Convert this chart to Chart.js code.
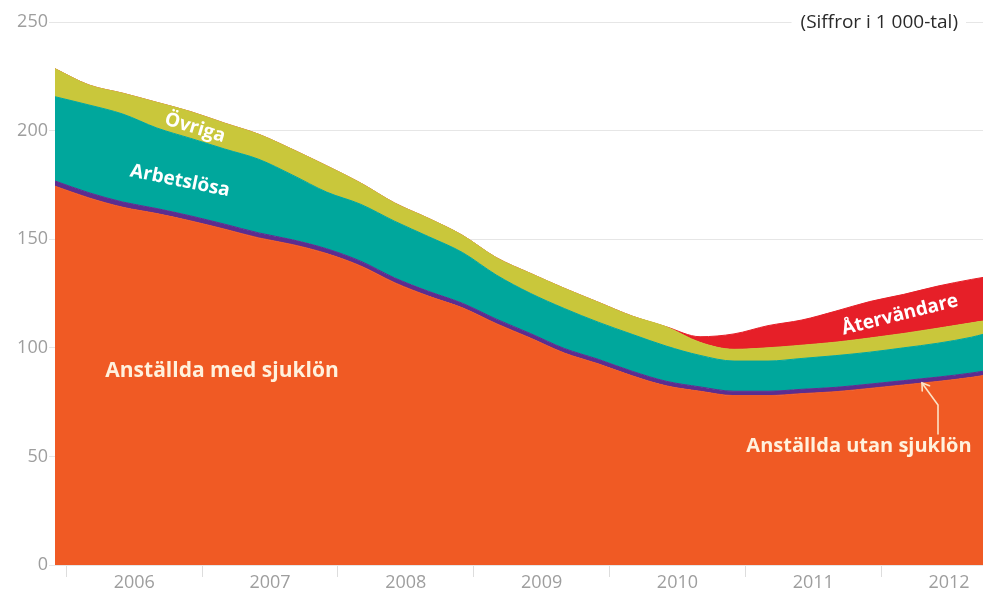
<!DOCTYPE html>
<html>
<head>
<meta charset="utf-8">
<script src="https://cdn.jsdelivr.net/npm/chart.js@4.4.1/dist/chart.umd.min.js"></script>
<style>
  html, body { margin: 0; padding: 0; background: #ffffff; }
  #c { display: block; }
</style>
</head>
<body>
<canvas id="c" width="983" height="593"></canvas>
<script>
// ---- Data (thousands of persons), quarterly readings ----
const months = ['2005-12','2006-03','2006-06','2006-09','2006-12','2007-03','2007-06','2007-09','2007-12',
  '2008-03','2008-06','2008-09','2008-12','2009-03','2009-06','2009-09','2009-12','2010-03','2010-06',
  '2010-09','2010-12','2011-03','2011-06','2011-09','2011-12','2012-03','2012-06','2012-09','2012-10'];
const anstalldaMedSjuklon = [174.4,169.0,164.7,161.8,158.4,154.6,150.6,147.5,143.4,137.7,130.0,123.8,118.4,111.1,
  104.5,97.6,92.6,87.1,82.5,80.0,78.0,78.0,78.9,79.8,81.3,82.9,84.5,86.4,87.2];
const anstalldaUtanSjuklon = [2.4,2.4,2.4,2.3,2.3,2.3,2.3,2.2,2.2,2.2,2.2,2.2,2.1,2.1,2.1,2.1,2.1,2.1,2.1,
  2.0,2.0,2.0,2.0,2.0,2.0,2.0,2.0,2.0,2.0];
const arbetslosa = [38.8,40.4,40.5,37.1,35.7,34.6,33.9,29.8,26.1,26.2,26.1,25.2,23.4,20.3,18.5,18.4,17.1,17.0,16.2,
  14.5,13.9,13.9,14.2,14.6,14.7,15.1,15.6,16.5,17.0];
const ovriga = [12.9,9.2,9.6,11.8,12.3,11.9,11.5,11.8,12.1,9.8,8.4,8.4,7.9,8.0,9.2,9.3,9.2,8.4,8.9,
  6.0,5.4,6.1,6.1,6.2,6.5,6.6,6.9,6.6,6.1];
const atervandare = [0,0,0,0,0,0,0,0,0,0,0,0,0,0,0,0,0,0,0,
  2.6,7.1,10.2,11.6,14.3,16.8,18.0,19.4,20.0,20.1];
const yearLabels = ['2006','2007','2008','2009','2010','2011','2012'];
const yTickValues = [0,50,100,150,200,250];
const unitNote = '(Siffror i 1 000-tal)';

// ---- helpers ----
const xs = months.map(m => { const [y, mo] = m.split('-').map(Number); return y + (mo - 1) / 12; });
const pts = arr => arr.map((v, i) => ({ x: xs[i], y: v }));

const COLORS = {
  orange: '#F05A24',
  purple: '#5C2D8F',
  teal: '#00A79C',
  yellow: '#C9C73B',
  red: '#E61F28'
};

function ds(label, arr, color, fill) {
  return {
    label, data: pts(arr), backgroundColor: color, borderColor: color, borderWidth: 1,
    fill, pointRadius: 0, cubicInterpolationMode: 'monotone'
  };
}

const annotations = {
  id: 'annotations',
  afterDraw(chart) {
    const ctx = chart.ctx;
    ctx.save();
    // unit note on the top gridline
    ctx.font = '19px "Open Sans"';
    const w = ctx.measureText(unitNote).width;
    const right = 958;
    ctx.fillStyle = '#ffffff';
    ctx.fillRect(right - w - 9, 10, w + 17, 26);
    ctx.fillStyle = '#2a2a2a';
    ctx.textAlign = 'right';
    ctx.textBaseline = 'middle';
    ctx.fillText(unitNote, right, 23);

    function rot(text, x, y, deg, size, color) {
      ctx.save();
      ctx.translate(x, y);
      ctx.rotate(deg * Math.PI / 180);
      ctx.font = 'bold ' + size + 'px "Open Sans"';
      ctx.fillStyle = color;
      ctx.textAlign = 'center';
      ctx.textBaseline = 'middle';
      ctx.fillText(text, 0, 0);
      ctx.restore();
    }
    rot('Övriga', 195, 128, 17, 19, '#ffffff');
    rot('Arbetslösa', 180, 181, 11.5, 19, '#ffffff');
    rot('Återvändare', 900, 315, -14, 19, '#ffffff');

    const cream = '#FFF1DD';
    ctx.font = 'bold 21px "Open Sans"';
    ctx.fillStyle = cream;
    ctx.textAlign = 'center';
    ctx.textBaseline = 'alphabetic';
    ctx.fillText('Anställda med sjuklön', 222, 377);
    ctx.font = 'bold 20px "Open Sans"';
    ctx.fillText('Anställda utan sjuklön', 859, 452);

    // arrow
    ctx.strokeStyle = '#FCE3C6';
    ctx.lineWidth = 1.6;
    ctx.lineCap = 'round';
    ctx.beginPath();
    ctx.moveTo(938, 434);
    ctx.lineTo(938, 405);
    ctx.lineTo(922, 383);
    ctx.stroke();
    const ang = Math.atan2(383 - 405, 922 - 938);
    const L = 8;
    ctx.beginPath();
    ctx.moveTo(922 - L * Math.cos(ang - 0.6), 383 - L * Math.sin(ang - 0.6));
    ctx.lineTo(922, 383);
    ctx.lineTo(922 - L * Math.cos(ang + 0.6), 383 - L * Math.sin(ang + 0.6));
    ctx.stroke();
    ctx.restore();
  }
};

new Chart(document.getElementById('c'), {
  type: 'line',
  data: {
    datasets: [
      ds('Anställda med sjuklön', anstalldaMedSjuklon, COLORS.orange, 'origin'),
      ds('Anställda utan sjuklön', anstalldaUtanSjuklon, COLORS.purple, '-1'),
      ds('Arbetslösa', arbetslosa, COLORS.teal, '-1'),
      ds('Övriga', ovriga, COLORS.yellow, '-1'),
      ds('Återvändare', atervandare, COLORS.red, '-1')
    ]
  },
  options: {
    responsive: false,
    animation: false,
    devicePixelRatio: 1,
    layout: { padding: { top: 22, left: 0, right: 0, bottom: 0 } },
    plugins: { legend: { display: false }, tooltip: { enabled: false } },
    scales: {
      x: {
        type: 'linear',
        min: xs[0],
        max: xs[xs.length - 1],
        afterBuildTicks(scale) {
          const t = [];
          yearLabels.forEach(y => { t.push({ value: Number(y) }); t.push({ value: Number(y) + 0.5 }); });
          scale.ticks = t;
        },
        afterFit(scale) { scale.height = 28; },
        border: { display: false },
        grid: {
          drawOnChartArea: false,
          drawTicks: true,
          tickLength: 12,
          color: c => (c.tick && Number.isInteger(c.tick.value)) ? '#dddddd' : 'rgba(0,0,0,0)'
        },
        ticks: {
          autoSkip: false,
          maxRotation: 0,
          padding: -5,
          color: '#9e9e9e',
          font: { family: 'Open Sans', size: 18 },
          callback: v => Number.isInteger(v) ? '' : String(Math.floor(v))
        }
      },
      y: {
        stacked: true,
        min: 0,
        max: 250,
        afterBuildTicks(scale) { scale.ticks = yTickValues.map(v => ({ value: v })); },
        afterFit(scale) { scale.width = 55; },
        border: { display: false },
        grid: { color: '#e6e6e6', tickLength: 6 },
        ticks: {
          padding: 1,
          color: '#9e9e9e',
          font: { family: 'Open Sans', size: 18 }
        }
      }
    }
  },
  plugins: [annotations]
});
</script>
</body>
</html>
